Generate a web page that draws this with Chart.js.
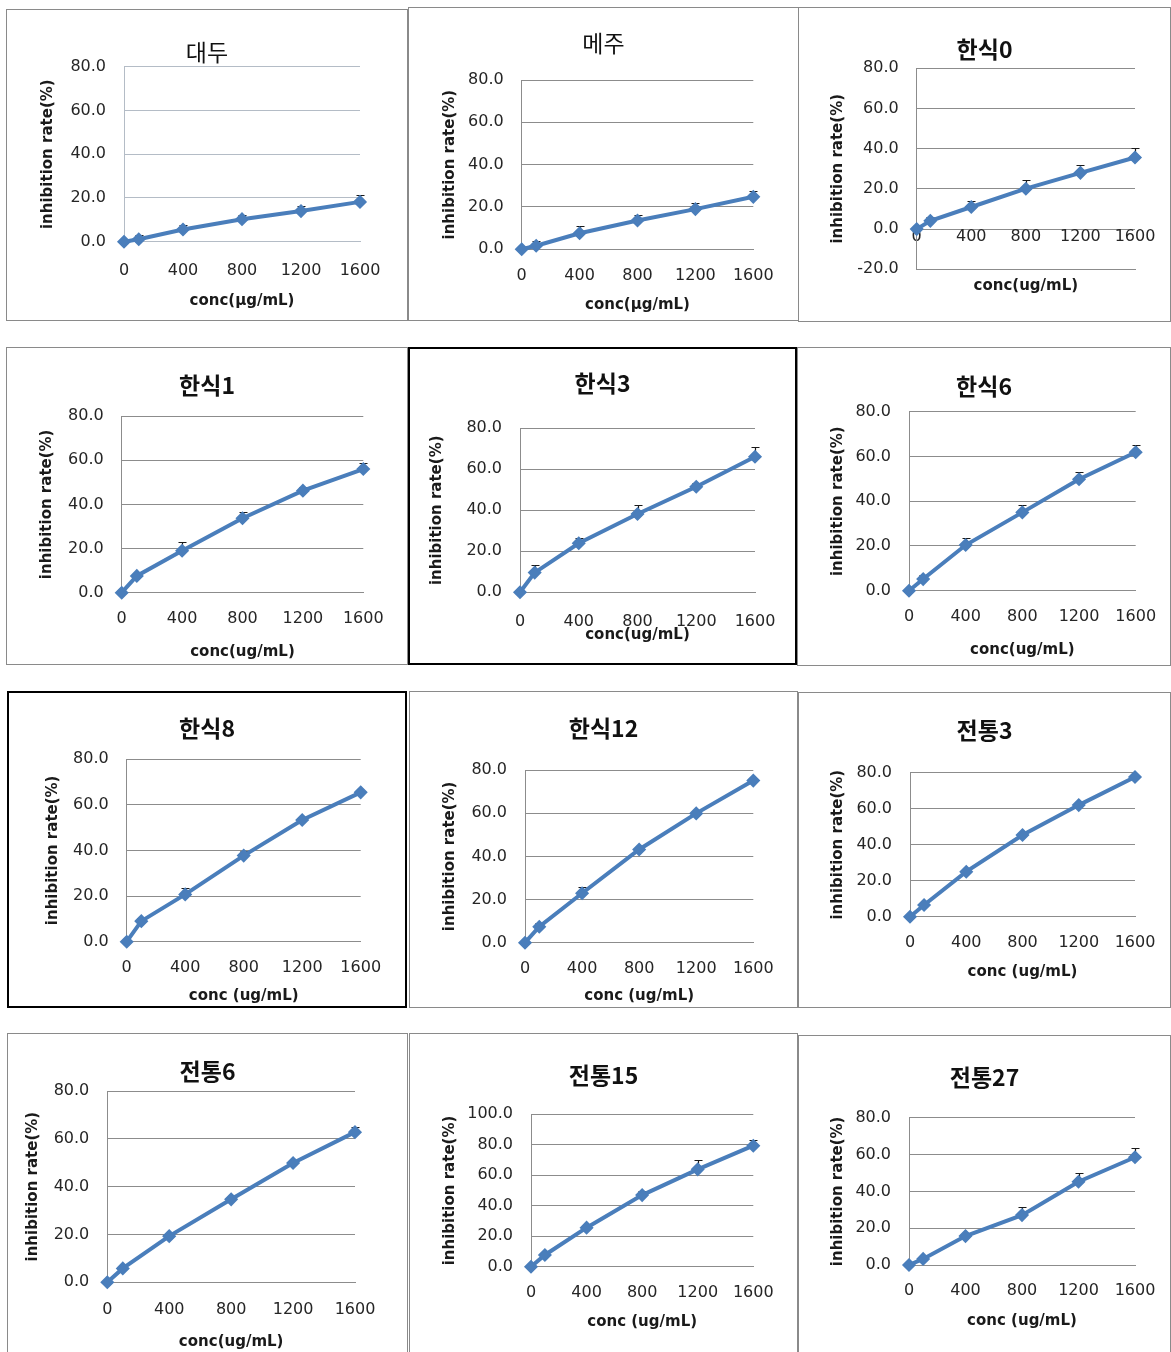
<!DOCTYPE html>
<html><head><meta charset="utf-8">
<script src="https://cdn.jsdelivr.net/npm/chart.js@4.4.1/dist/chart.umd.min.js"></script>
<style>
html,body{margin:0;padding:0;background:#fff;overflow:hidden;width:1171px;height:1352px;}
.panel{position:absolute;box-sizing:border-box;background:#fff;overflow:hidden}
.panel canvas{position:absolute;left:0;top:0}
</style></head><body>
<script>
// ---------------- data ----------------
const concentrations = [0, 100, 400, 800, 1200, 1600];
const xTickValues = [0, 400, 800, 1200, 1600];
const sampleNames = ['대두','메주','한식0','한식1','한식3','한식6','한식8','한식12','전통3','전통6','전통15','전통27'];
const xAxisTitles = ['conc(μg/mL)','conc(μg/mL)','conc(ug/mL)','conc(ug/mL)','conc(ug/mL)','conc(ug/mL)',
                     'conc (ug/mL)','conc (ug/mL)','conc (ug/mL)','conc(ug/mL)','conc (ug/mL)','conc (ug/mL)'];
const yAxisTitle = 'inhibition rate(%)';
const yMinValues = [0, 0, -20, 0, 0, 0, 0, 0, 0, 0, 0, 0];
const yMaxValues = [80, 80, 80, 80, 80, 80, 80, 80, 80, 80, 100, 80];
const yStep = 20;

const rateDaedu   = [0, 1.1, 5.6, 10.3, 14.0, 18.2];
const rateMeju    = [0, 1.7, 7.6, 13.6, 19.0, 24.8];
const rateHansik0 = [0, 4.1, 11.0, 20.1, 28.0, 35.6];
const rateHansik1 = [0, 7.6, 19.0, 33.7, 46.2, 56.0];
const rateHansik3 = [0, 9.6, 23.9, 38.2, 51.5, 66.1];
const rateHansik6 = [0, 5.2, 20.4, 35.0, 49.8, 61.9];
const rateHansik8 = [0, 9.0, 20.7, 37.7, 53.3, 65.4];
const rateHansik12= [0, 7.4, 22.9, 43.2, 59.9, 75.1];
const rateJeontong3  = [0, 6.5, 25.0, 45.4, 62.0, 77.6];
const rateJeontong6  = [0, 5.8, 19.3, 34.7, 49.9, 62.8];
const rateJeontong15 = [0, 7.7, 25.6, 47.0, 63.9, 79.4];
const rateJeontong27 = [0, 3.3, 15.7, 27.1, 45.2, 58.5];

const errDaedu   = [0, 1.9, 1.9, 1.7, 2.2, 3.3];
const errMeju    = [0, 2.4, 3.2, 2.6, 2.9, 2.8];
const errHansik0 = [0, 1.9, 2.9, 4.1, 4.0, 4.6];
const errHansik1 = [0, 1.4, 3.8, 3.0, 1.8, 2.8];
const errHansik3 = [0, 3.7, 2.7, 4.5, 2.0, 4.6];
const errHansik6 = [0, 1.8, 3.3, 3.3, 3.3, 3.2];
const errHansik8 = [0, 1.3, 2.7, 2.1, 1.0, 0.8];
const errHansik12= [0, 1.5, 3.0, 1.0, 1.0, 0.8];
const errJeontong3  = [0, 0.8, 0.8, 0.8, 0.8, 0.8];
const errJeontong6  = [0, 1.0, 1.0, 1.0, 1.0, 2.0];
const errJeontong15 = [0, 1.5, 1.5, 2.9, 6.1, 3.8];
const errJeontong27 = [0, 1.7, 1.3, 4.6, 4.6, 4.8];

const rateSeries = [rateDaedu, rateMeju, rateHansik0, rateHansik1, rateHansik3, rateHansik6,
                    rateHansik8, rateHansik12, rateJeontong3, rateJeontong6, rateJeontong15, rateJeontong27];
const errSeries = [errDaedu, errMeju, errHansik0, errHansik1, errHansik3, errHansik6,
                   errHansik8, errHansik12, errJeontong3, errJeontong6, errJeontong15, errJeontong27];

// ---------------- layout (positions / styles) ----------------
const GRAY = '#8a8a8a';
const panelLayouts = [
  {box:[6,9,408,321],      bw:1, bc:GRAY,   plot:[124,66.7,360,241.7],   titleY:52,    labelY:270.5, xTitleY:301.5, yTitleX:48,   grid:'#b4bcc6', tw:'normal'},
  {box:[408,7,799,321],    bw:1, bc:GRAY,   plot:[521.7,80,753.3,249.3], titleY:43.5,  labelY:275.5, xTitleY:305.5, yTitleX:450,  grid:'#8c8c8c', tw:'normal'},
  {box:[798,7,1171,322],   bw:1, bc:GRAY,   plot:[916.7,68.3,1135,269.3],titleY:49,    labelY:256.5, xTitleY:286,   yTitleX:838,  grid:'#8c8c8c', tw:'bold'},
  {box:[6,347,408,665],    bw:1, bc:GRAY,   plot:[121.7,416,363.3,592.7],titleY:385,   labelY:619.3, xTitleY:652,   yTitleX:46.7, grid:'#8c8c8c', tw:'bold'},
  {box:[408,347,797,665],  bw:2, bc:'#000', plot:[520,428.3,755,592.3],  titleY:383.3, labelY:622,   xTitleY:635.5, yTitleX:436.7,grid:'#8c8c8c', tw:'bold'},
  {box:[797,347,1171,666], bw:1, bc:GRAY,   plot:[909,411.7,1135.7,590.7],titleY:386.7,labelY:616.7, xTitleY:650.5, yTitleX:838.3,grid:'#8c8c8c', tw:'bold'},
  {box:[7,691,407,1008],   bw:2, bc:'#000', plot:[126.7,759,360.7,941.7],titleY:728.3, labelY:967.5, xTitleY:996,   yTitleX:53.3, grid:'#8c8c8c', tw:'bold'},
  {box:[409,691,798,1008], bw:1, bc:GRAY,   plot:[525,770,753.3,942.7],  titleY:728.3, labelY:969,   xTitleY:996,   yTitleX:450,  grid:'#8c8c8c', tw:'bold'},
  {box:[798,692,1171,1008],bw:1, bc:GRAY,   plot:[910,772.7,1135,916.7], titleY:730,   labelY:943,   xTitleY:972.5, yTitleX:838.3,grid:'#8c8c8c', tw:'bold'},
  {box:[7,1033,408,1358],  bw:1, bc:GRAY,   plot:[107.3,1091,355,1282.3],titleY:1071.7,labelY:1309.5,xTitleY:1342,  yTitleX:33.3, grid:'#8c8c8c', tw:'bold'},
  {box:[409,1033,798,1358],bw:1, bc:GRAY,   plot:[531,1114.3,753.3,1266.7],titleY:1075,labelY:1292.5,xTitleY:1322.5,yTitleX:450,  grid:'#8c8c8c', tw:'bold'},
  {box:[798,1035,1171,1358],bw:1,bc:GRAY,   plot:[909,1117.7,1135,1265], titleY:1077,  labelY:1291,  xTitleY:1321,  yTitleX:838.3,grid:'#8c8c8c', tw:'bold'}
];

const SERIES_COLOR = '#4a7ebb';
const TICK_FONT = {family:'"DejaVu Sans", sans-serif', size:16, lineHeight:1.2};
const AXIS_TITLE_FONT = {family:'"DejaVu Sans", sans-serif', size:15, weight:'bold', lineHeight:1.2};
const TITLE_SIZE = 23;

const errorBarPlugin = {
  id: 'errorBars',
  beforeDatasetsDraw(chart, args, opts) {
    const {ctx} = chart;
    const xs = chart.scales.x, ys = chart.scales.y;
    const ds = chart.data.datasets[0];
    const errs = opts.errors || [];
    ctx.save();
    ctx.strokeStyle = opts.color;
    ctx.lineWidth = opts.width;
    ds.data.forEach((pt, i) => {
      const e = errs[i];
      if (!e) return;
      const px = Math.round(xs.getPixelForValue(pt.x)) + 0.5;
      const py = ys.getPixelForValue(pt.y);
      const pe = Math.round(ys.getPixelForValue(pt.y + e)) + 0.5;
      ctx.beginPath();
      ctx.moveTo(px, py); ctx.lineTo(px, pe);
      ctx.moveTo(px - opts.cap, pe); ctx.lineTo(px + opts.cap, pe);
      ctx.stroke();
    });
    ctx.restore();
  }
};

panelLayouts.forEach((L, i) => {
  const [x0, y0, x1, y1] = L.box;
  const div = document.createElement('div');
  div.className = 'panel';
  div.style.left = x0 + 'px'; div.style.top = y0 + 'px';
  div.style.width = (x1 - x0) + 'px'; div.style.height = (y1 - y0) + 'px';
  div.style.border = L.bw + 'px solid ' + L.bc;
  document.body.appendChild(div);
  const cw = x1 - x0 - 2 * L.bw, ch = y1 - y0 - 2 * L.bw;
  const cx = x0 + L.bw, cy = y0 + L.bw;
  const canvas = document.createElement('canvas');
  canvas.width = cw; canvas.height = ch;
  canvas.style.width = cw + 'px'; canvas.style.height = ch + 'px';
  div.appendChild(canvas);

  const [pl, pt, pr, pb] = L.plot;
  const rightSpace = (cx + cw) - pr;
  const titleLH = TITLE_SIZE * 1.2;
  const titlePadTop = (L.titleY - cy) - titleLH / 2;
  const titlePadBottom = Math.max(0, (pt - cy) - titlePadTop - titleLH);
  const yScaleWidth = pl - cx;
  const xScaleHeight = (cy + ch) - pb;
  const tickLH = TICK_FONT.size * TICK_FONT.lineHeight;
  const axLH = AXIS_TITLE_FONT.size * AXIS_TITLE_FONT.lineHeight;
  const labelOffset = L.labelY - pb - tickLH / 2;
  const mirrorX = labelOffset < 0;

  const points = concentrations.map((c, k) => ({x: c, y: rateSeries[i][k]}));

  new Chart(canvas, {
    type: 'line',
    data: {
      datasets: [{
        data: points,
        borderColor: SERIES_COLOR,
        backgroundColor: SERIES_COLOR,
        borderWidth: 4,
        pointStyle: 'rectRot',
        pointRadius: 6,
        pointBorderWidth: 1.5,
        pointBorderColor: SERIES_COLOR,
        pointBackgroundColor: SERIES_COLOR,
        tension: 0,
        clip: false,
        xAxisID: 'x',
        yAxisID: 'y'
      }]
    },
    options: {
      responsive: false,
      animation: false,
      devicePixelRatio: 1,
      layout: {padding: 0},
      plugins: {
        legend: {display: false},
        tooltip: {enabled: false},
        title: {
          display: true,
          text: sampleNames[i],
          color: '#111',
          font: {family: '"Noto Sans CJK KR", "Noto Sans", sans-serif', size: TITLE_SIZE, weight: L.tw, lineHeight: 1.2},
          padding: {top: titlePadTop, bottom: titlePadBottom}
        },
        errorBars: {errors: errSeries[i], color: '#1a1a1a', width: 1.2, cap: 4}
      },
      scales: {
        x: {
          type: 'linear',
          position: 'bottom',
          min: 0, max: 1600,
          offset: false,
          afterBuildTicks: s => { s.ticks = xTickValues.map(v => ({value: v})); },
          afterFit: s => { s.height = xScaleHeight; s.paddingLeft = 0; s.paddingRight = 0; },
          grid: {display: false, drawTicks: false, tickLength: 0},
          border: {display: true, color: L.grid, width: 1},
          ticks: {
            color: '#262626', font: TICK_FONT, maxRotation: 0, autoSkip: false,
            mirror: mirrorX,
            padding: mirrorX ? -labelOffset : labelOffset,
            callback: v => String(v)
          },
          title: {
            display: true, text: xAxisTitles[i], color: '#1a1a1a', font: AXIS_TITLE_FONT,
            padding: {top: 0, bottom: (cy + ch) - L.xTitleY - axLH / 2}
          }
        },
        y: {
          type: 'linear',
          position: 'left',
          min: yMinValues[i], max: yMaxValues[i],
          afterBuildTicks: s => {
            const t = [];
            for (let v = yMinValues[i]; v <= yMaxValues[i]; v += yStep) t.push({value: v});
            s.ticks = t;
          },
          afterFit: s => { s.width = yScaleWidth; s.paddingTop = 0; s.paddingBottom = 0; },
          grid: {display: true, color: L.grid, lineWidth: 1, drawTicks: false, tickLength: 0},
          border: {display: true, color: L.grid, width: 1},
          ticks: {
            color: '#262626', font: TICK_FONT, padding: 18,
            callback: v => Number(v).toFixed(1)
          },
          title: {
            display: true, text: yAxisTitle, color: '#1a1a1a', font: AXIS_TITLE_FONT,
            padding: {top: (L.yTitleX - cx) - axLH / 2, bottom: 0}
          }
        },
        // blank spacer on the right so the title stays centred on the whole panel
        ySpacer: {
          type: 'linear',
          position: 'right',
          display: true,
          min: 0, max: 1,
          afterFit: s => { s.width = rightSpace; s.paddingTop = 0; s.paddingBottom = 0; },
          grid: {display: false, drawTicks: false},
          border: {display: false},
          ticks: {display: false},
          title: {display: false}
        }
      }
    },
    plugins: [errorBarPlugin]
  });
});
</script>
</body></html>
